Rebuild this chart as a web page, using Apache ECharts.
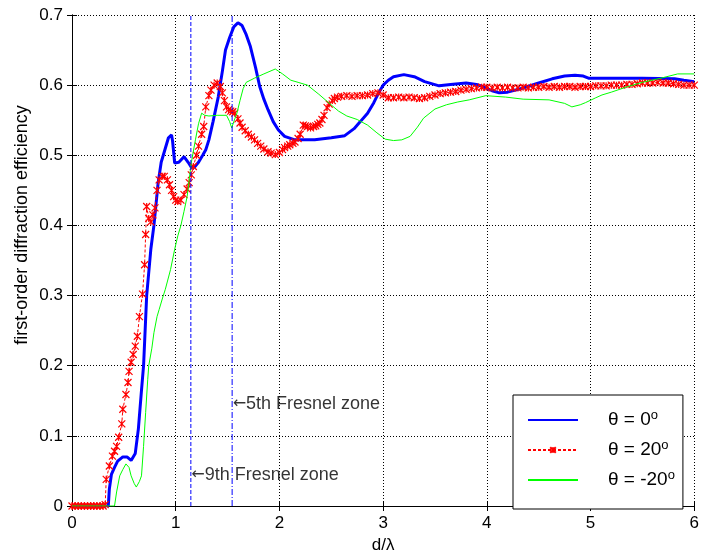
<!DOCTYPE html>
<html>
<head>
<meta charset="utf-8">
<script src="https://cdn.jsdelivr.net/npm/echarts@6/dist/echarts.min.js"></script>
<style>
html,body{margin:0;padding:0;background:#fff;}
#main{width:702px;height:559px;}
</style>
</head>
<body>
<div id="main"></div>
<script>
//曲线数据 [d/λ, efficiency]
var theta0 = [
	[0,0],[0.35,0],[0.36,0.024],[0.38,0.045],[0.41,0.055],[0.44,0.064],[0.49,0.07],[0.53,0.07],[0.57,0.065],
	[0.61,0.075],[0.64,0.11],[0.67,0.165],[0.69,0.2],[0.72,0.3],[0.76,0.366],[0.79,0.40],[0.83,0.46],
	[0.86,0.49],[0.89,0.505],[0.93,0.525],[0.96,0.529],[0.97,0.52],[0.99,0.489],[1.03,0.49],[1.08,0.498],
	[1.12,0.49],[1.15,0.483],[1.18,0.483],[1.22,0.49],[1.26,0.5],[1.29,0.508],[1.32,0.522],[1.36,0.548],
	[1.41,0.583],[1.45,0.62],[1.48,0.65],[1.52,0.668],[1.56,0.683],[1.60,0.689],[1.64,0.685],[1.68,0.672],
	[1.72,0.655],[1.77,0.625],[1.81,0.598],[1.85,0.58],[1.89,0.565],[1.94,0.548],[1.99,0.536],[2.05,0.527],
	[2.15,0.522],[2.34,0.522],[2.5,0.525],[2.63,0.528],[2.72,0.538],[2.78,0.548],[2.85,0.56],[2.91,0.575],
	[2.96,0.59],[3.0,0.6],[3.05,0.607],[3.1,0.612],[3.2,0.615],[3.3,0.612],[3.4,0.605],[3.54,0.599],
	[3.65,0.601],[3.8,0.603],[3.9,0.601],[3.96,0.598],[4.05,0.592],[4.12,0.589],[4.2,0.59],[4.35,0.596],
	[4.5,0.603],[4.63,0.609],[4.75,0.613],[4.85,0.614],[4.93,0.613],[4.98,0.61],[5.2,0.61],[5.5,0.61],
	[5.81,0.609],[5.9,0.607],[6.0,0.605]
];
var theta20 = [
	[0,0],[0.03,0],[0.06,0],[0.09,0],[0.12,0],[0.15,0],[0.18,0],[0.21,0],[0.24,0],[0.27,0],[0.3,0],[0.32,0.002],
	[0.33,0.038],[0.36,0.057],[0.39,0.071],[0.41,0.078],[0.43,0.085],[0.45,0.098],[0.48,0.117],[0.49,0.138],
	[0.52,0.159],[0.54,0.176],[0.55,0.192],[0.57,0.205],[0.59,0.216],[0.61,0.228],[0.63,0.242],[0.65,0.27],
	[0.68,0.302],[0.70,0.344],[0.71,0.387],[0.72,0.427],[0.74,0.41],[0.76,0.405],[0.78,0.415],[0.80,0.425],
	[0.82,0.45],[0.84,0.465],[0.87,0.47],[0.89,0.47],[0.92,0.465],[0.94,0.458],[0.96,0.45],[0.98,0.441],
	[1.0,0.436],[1.02,0.434],[1.05,0.436],[1.08,0.444],[1.11,0.452],[1.13,0.461],[1.15,0.472],[1.17,0.484],
	[1.2,0.5],[1.22,0.513],[1.25,0.53],[1.27,0.541],[1.29,0.569],[1.32,0.585],[1.34,0.593],[1.37,0.6],
	[1.40,0.603],[1.43,0.598],[1.45,0.589],[1.47,0.578],[1.49,0.569],[1.51,0.565],[1.53,0.563],[1.55,0.562],
	[1.57,0.56],[1.60,0.552],[1.62,0.546],[1.64,0.54],[1.67,0.535],[1.70,0.53],[1.73,0.526],[1.76,0.522],
	[1.79,0.517],[1.82,0.513],[1.85,0.509],[1.89,0.505],[1.92,0.503],[1.96,0.501],[2.0,0.504],[2.03,0.508],
	[2.05,0.511],[2.08,0.513],[2.10,0.515],[2.13,0.517],[2.15,0.519],[2.18,0.524],[2.20,0.53],[2.23,0.543],
	[2.25,0.542],[2.27,0.541],[2.30,0.539],[2.33,0.541],[2.35,0.542],[2.37,0.544],[2.39,0.546],[2.41,0.551],
	[2.43,0.557],[2.46,0.568],[2.48,0.573],[2.51,0.578],[2.53,0.581],[2.56,0.583],[2.60,0.584],[2.65,0.585],
	[2.70,0.584],[2.75,0.585],[2.80,0.585],[2.85,0.586],[2.90,0.588],[2.95,0.589],[3.00,0.586],[3.05,0.582],
	[3.10,0.582],[3.15,0.583],[3.20,0.582],[3.25,0.583],[3.30,0.582],[3.35,0.581],[3.40,0.582],[3.45,0.584],
	[3.50,0.586],[3.55,0.588],[3.60,0.589],[3.65,0.59],[3.70,0.591],[3.75,0.593],[3.80,0.594],[3.85,0.595],
	[3.90,0.596],[3.95,0.597],[4.00,0.597],[4.05,0.596],[4.10,0.597],[4.15,0.596],[4.20,0.597],[4.25,0.596],
	[4.30,0.596],[4.35,0.597],[4.40,0.596],[4.45,0.597],[4.50,0.597],[4.55,0.598],[4.60,0.597],[4.65,0.598],
	[4.70,0.597],[4.75,0.598],[4.80,0.598],[4.85,0.597],[4.90,0.598],[4.95,0.598],[5.00,0.598],[5.05,0.599],
	[5.10,0.599],[5.15,0.599],[5.20,0.6],[5.25,0.6],[5.30,0.6],[5.35,0.601],[5.40,0.601],[5.45,0.602],
	[5.50,0.603],[5.55,0.603],[5.60,0.603],[5.65,0.604],[5.70,0.603],[5.75,0.603],[5.80,0.602],[5.85,0.601],
	[5.90,0.6],[5.95,0.6],[6.00,0.6]
];
var thetaM20 = [
	[0,0],[0.41,0],[0.43,0.02],[0.46,0.043],[0.49,0.052],[0.52,0.06],[0.55,0.055],[0.57,0.043],[0.6,0.032],
	[0.62,0.027],[0.65,0.035],[0.67,0.043],[0.69,0.085],[0.71,0.133],[0.73,0.18],[0.74,0.2],[0.77,0.225],
	[0.79,0.247],[0.82,0.27],[0.84,0.28],[0.87,0.295],[0.9,0.309],[0.95,0.337],[0.99,0.366],[1.02,0.385],
	[1.05,0.4],[1.08,0.42],[1.11,0.441],[1.15,0.489],[1.19,0.522],[1.22,0.545],[1.25,0.56],[1.28,0.557],
	[1.32,0.556],[1.4,0.557],[1.49,0.557],[1.52,0.548],[1.54,0.539],[1.56,0.548],[1.59,0.56],[1.62,0.578],
	[1.65,0.595],[1.68,0.604],[1.76,0.61],[1.85,0.616],[1.96,0.623],[2.03,0.616],[2.11,0.607],[2.18,0.604],
	[2.27,0.6],[2.38,0.587],[2.49,0.573],[2.57,0.563],[2.65,0.556],[2.75,0.551],[2.85,0.543],[2.94,0.532],
	[3.02,0.523],[3.1,0.521],[3.18,0.522],[3.26,0.527],[3.33,0.54],[3.39,0.553],[3.5,0.566],[3.61,0.572],
	[3.72,0.576],[3.83,0.579],[3.99,0.585],[4.18,0.583],[4.35,0.58],[4.6,0.579],[4.75,0.574],[4.82,0.569],
	[4.9,0.572],[4.95,0.575],[5.05,0.582],[5.11,0.586],[5.2,0.59],[5.36,0.598],[5.5,0.604],[5.68,0.61],
	[5.84,0.616],[6.0,0.616]
];
//菲涅尔带位置及标注
var zone9 = 1.146;
var zone5 = 1.544;
var zoneLabels = [[1.146,0.044,'9th Fresnel zone'],[1.544,0.145,'5th Fresnel zone']];
var legendNames = ['θ = 0','θ = 20','θ = -20'];

var FONT = 'Liberation Sans, Arial, sans-serif';
var XMARK = 'path://M0,0L10,10M0,10L10,0M5,0L5,10';
var chart = echarts.init(document.getElementById('main'));
var axisCommon = {
	type:'value',
	axisLine:{show:true,lineStyle:{color:'#000',width:1}},
	axisTick:{show:true,inside:true,length:5,lineStyle:{color:'#000'}},
	axisLabel:{show:false},
	splitLine:{show:false}
};
chart.setOption({
	animation:false,
	backgroundColor:'#fff',
	grid:{left:72,right:2,top:15,bottom:52,containLabel:false},
	xAxis:[
		echarts.util.merge({
			min:0,max:6,interval:1,position:'bottom',
			name:'d/λ',nameLocation:'middle',nameGap:31,
			nameTextStyle:{fontFamily:FONT,fontSize:17,color:'#000'},
			axisLabel:{show:true,margin:9,fontFamily:FONT,fontSize:17,color:'#000'},
			splitLine:{show:true,lineStyle:{color:'#000',type:[1,2],width:1}}
		}, axisCommon),
		echarts.util.merge({min:0,max:6,interval:1,position:'top'}, axisCommon)
	],
	yAxis:[
		echarts.util.merge({
			min:0,max:0.7,interval:0.1,position:'left',
			axisLabel:{show:true,margin:9,fontFamily:FONT,fontSize:17,color:'#000'},
			splitLine:{show:true,lineStyle:{color:'#000',type:[1,2],width:1}}
		}, axisCommon),
		echarts.util.merge({min:0,max:0.7,interval:0.1,position:'right'}, axisCommon)
	],
	graphic:[{
		type:'text',x:22,y:225,rotation:Math.PI/2,
		style:{text:'first-order diffraction efficiency',fontFamily:FONT,fontSize:18,fill:'#000',
			textAlign:'center',textVerticalAlign:'middle'}
	}],
	legend:{
		data:[
			{name:legendNames[0],itemStyle:{opacity:0}},
			{name:legendNames[1]},
			{name:legendNames[2],itemStyle:{opacity:0}}
		],
		orient:'vertical',left:513,top:395,
		padding:[14,8,14,14],itemGap:4,itemWidth:50,itemHeight:7,
		backgroundColor:'#fff',borderColor:'#000',borderWidth:1,borderRadius:0,
		formatter:function(n){ return '{g|}{t|' + n + '}{s|o}'; },
		textStyle:{
			rich:{
				g:{width:25},
				t:{fontFamily:FONT,fontSize:19,color:'#000',lineHeight:22},
				s:{fontFamily:FONT,fontSize:13,color:'#000',verticalAlign:'top',lineHeight:22,padding:[0,0,13,0]}
			}
		}
	},
	series:[
		{
			name:legendNames[0],type:'line',data:theta0,showSymbol:false,symbol:'none',
			lineStyle:{color:'#0000ff',width:3},itemStyle:{color:'#0000ff'},z:3
		},
		{
			name:legendNames[1],type:'line',data:theta20,
			symbol:XMARK,symbolSize:7,
			lineStyle:{color:'#ff0000',width:1,type:[3,2]},
			itemStyle:{color:'#ff0000',borderColor:'#ff0000',borderWidth:1.2},z:4
		},
		{
			name:legendNames[2],type:'line',data:thetaM20,showSymbol:false,symbol:'none',
			lineStyle:{color:'#00ff00',width:1},itemStyle:{color:'#00ff00'},z:5
		},
		{
			type:'line',data:[[zone9,0],[zone9,0.7]],symbol:'none',silent:true,
			lineStyle:{color:'#0000ff',width:1,type:[4,2]},z:6
		},
		{
			type:'line',data:[[zone5,0],[zone5,0.7]],symbol:'none',silent:true,
			lineStyle:{color:'#0000ff',width:1,type:[6,2,1,2]},z:6
		},
		{
			type:'scatter',data:zoneLabels,symbolSize:1,silent:true,
			itemStyle:{color:'rgba(0,0,0,0)'},
			label:{show:true,position:'right',distance:0,
				formatter:function(p){return '{a|←}' + p.data[2];},
				rich:{a:{fontFamily:'DejaVu Sans',fontSize:16,color:'#000'}},
				fontFamily:FONT,fontSize:18,color:'#000'},
			z:7
		}
	]
});
</script>
</body>
</html>
